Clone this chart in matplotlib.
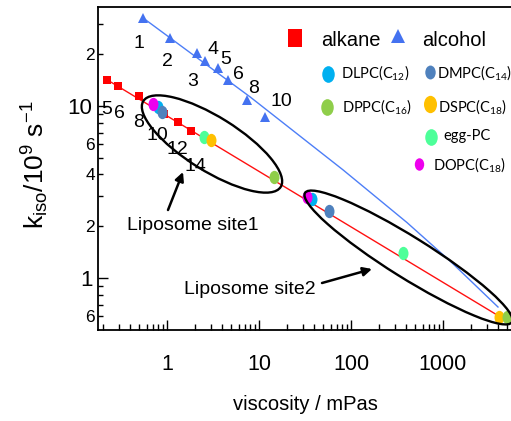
import numpy as np
import matplotlib
matplotlib.use('Agg')
import matplotlib.pyplot as plt
from matplotlib.path import Path
from matplotlib.patches import Ellipse
from matplotlib.transforms import IdentityTransform
from matplotlib.ticker import FixedLocator, FixedFormatter
from matplotlib import font_manager

# ---------------- data ----------------
alkane_n = ['5', '6', '8', '10', '12', '14']
alkane_visc = [0.223, 0.293, 0.496, 0.93, 1.32, 1.82]
alkane_k = [14.2, 13.1, 11.5, 8.98, 8.07, 7.16]

alcohol_n = ['1', '2', '3', '4', '5', '6', '8', '10']
alcohol_visc = [0.548, 1.08, 2.12, 2.59, 3.58, 4.6, 7.4, 11.6]
alcohol_k = [32.5, 24.8, 20.3, 18.3, 16.6, 14.2, 10.8, 8.63]

alkane_fit_visc = [0.223, 3860]
alkane_fit_k = [14.2, 0.61]
alcohol_fit_visc = [0.548, 7.98, 81.9, 406, 1191, 3960]
alcohol_fit_k = [32.5, 11.3, 4.25, 2.10, 1.256, 0.678]

lipids = ['DLPC', 'egg-PC', 'DSPC', 'DMPC', 'DPPC', 'DOPC']
lipid_labels = ['DLPC(C$_{12}$)', 'egg-PC', 'DSPC(C$_{18}$)', 'DMPC(C$_{14}$)',
                'DPPC(C$_{16}$)', 'DOPC(C$_{18}$)']
lipid_colors = ['#00b0f0', '#4dff99', '#ffc000', '#4f81bd', '#8fce4a', '#ee00ee']
site1_visc = [0.798, 2.52, 3.0, 0.883, 14.6, 0.705]
site1_k = [9.87, 6.6, 6.35, 9.23, 3.87, 10.3]
site2_visc = [37.7, 367, 4060, 57.7, 4960, 33.3]
site2_k = [2.88, 1.40, 0.593, 2.45, 0.593, 2.96]

x_major_ticks = [1, 10, 100, 1000]
x_major_labels = ['1', '10', '100', '1000']
y_major_ticks = [1, 10]
y_major_labels = ['1', '10']
y_minor_ticks = [0.6, 0.7, 0.8, 0.9, 2, 3, 4, 5, 6, 7, 8, 9, 20, 30]
y_minor_labels = ['6', '', '', '', '2', '', '4', '', '6', '', '', '', '2', '']

# ---------------- fonts ----------------
avail = {f.name for f in font_manager.fontManager.ttflist}
NARROW = ['Liberation Sans Narrow', 'Liberation Sans'] if 'Liberation Sans Narrow' in avail else ['Liberation Sans']
REG = ['Liberation Sans', 'DejaVu Sans']
CAL = ['Lato', 'Liberation Sans']
plt.rcParams['font.family'] = NARROW
plt.rcParams['mathtext.default'] = 'regular'

# ---------------- figure ----------------
W, H = 511, 421
fig = plt.figure(figsize=(W / 100, H / 100), dpi=100)
L, R, T, B = 98, 511, 7, 330
ax = fig.add_axes([L / W, 1 - B / H, (R - L) / W, (B - T) / H])
ax.set_xscale('log')
ax.set_yscale('log')
ax.set_xlim(0.1778, 5485)
ax.set_ylim(0.4984, 37.6)


def pxa(x, y):
    return ((x - L) / (R - L), (B - y) / (B - T))


# fit lines
ax.plot(alkane_fit_visc, alkane_fit_k, color='#ff1010', lw=1.0, zorder=2)
ax.plot(alcohol_fit_visc, alcohol_fit_k, color='#4d7ef7', lw=1.0, zorder=2)

# solvents
ax.plot(alkane_visc, alkane_k, ls='none', marker='s', ms=5.8, color='#ff0000',
        mew=0, zorder=3)
ax.plot(alcohol_visc, alcohol_k, ls='none', marker='^', ms=7.0, color='#4472f0',
        mew=0, zorder=3)

# ellipse marker
uc = Path.unit_circle()
ell_marker = Path(uc.vertices * np.array([0.75, 1.0]), uc.codes)

for i, name in enumerate(lipids):
    ax.plot([site1_visc[i], site2_visc[i]], [site1_k[i], site2_k[i]], ls='none',
            marker=ell_marker, ms=9.6, color=lipid_colors[i], mew=0, zorder=4 + i * 0.1)

# ---------------- ticks ----------------
ax.xaxis.set_major_locator(FixedLocator(x_major_ticks))
ax.xaxis.set_major_formatter(FixedFormatter(x_major_labels))
ax.xaxis.set_minor_locator(FixedLocator(
    [m * 10.0 ** e for e in range(-1, 4) for m in range(2, 10)]))
ax.xaxis.set_minor_formatter(FixedFormatter([]))
ax.yaxis.set_major_locator(FixedLocator(y_major_ticks))
ax.yaxis.set_major_formatter(FixedFormatter(y_major_labels))
ax.yaxis.set_minor_locator(FixedLocator(y_minor_ticks))
ax.yaxis.set_minor_formatter(FixedFormatter(y_minor_labels))

ax.tick_params(axis='both', which='both', direction='in', top=False, right=False,
               width=1.0, colors='black')
ax.tick_params(axis='x', which='major', length=7.5, pad=17, labelsize=15.5)
ax.tick_params(axis='x', which='minor', length=4.3)
ax.tick_params(axis='y', which='major', length=7, pad=4, labelsize=16)
ax.tick_params(axis='y', which='minor', length=3.8, pad=2, labelsize=12.5)
for s in ['left', 'bottom', 'top']:
    ax.spines[s].set_linewidth(1.3)
ax.spines['right'].set_visible(False)

# ---------------- axis labels ----------------
fig.text(35 / W, 1 - 165 / H, r'k$_{iso}$/10$^{9}$ s$^{-1}$', rotation=90,
         ha='center', va='center', fontsize=19, family=REG)
fig.text(305.5 / W, 1 - 404 / H, 'viscosity / mPas', ha='center', va='center',
         fontsize=14.5, family=REG)


def label(x, yc, s, size, **kw):
    # place text with its digit/cap centre at pixel (x, yc)
    px = size * 100 / 72
    ax.text(*pxa(x, yc + 0.36 * px), s, transform=ax.transAxes, ha='center',
            va='baseline', fontsize=size, clip_on=False, **kw)


# number labels
alc_lab_px = [(139, 41), (167, 59), (193, 79), (213, 47), (226, 57), (238, 72),
              (254, 86), (281, 99)]
for s, (x, y) in zip(alcohol_n, alc_lab_px):
    label(x, y, s, 14)
alk_lab_px = [(107, 107), (119, 111), (139, 120), (157, 133), (177, 147), (195, 164)]
for s, (x, y) in zip(alkane_n, alk_lab_px):
    label(x, y, s, 14)

# ---------------- ellipses & annotations ----------------
for (cx, cy, a, b, ang) in [(212, 144, 81, 27, -32), (408.5, 257.5, 122, 20.5, -32)]:
    e = Ellipse((cx, H - cy), 2 * a, 2 * b, angle=ang, transform=IdentityTransform(),
                fill=False, ec='black', lw=1.7, zorder=6)
    fig.add_artist(e)

label(193, 223, 'Liposome site1', 14, family=REG)
label(250, 287, 'Liposome site2', 14, family=REG)
ax.annotate('', xy=pxa(183, 172), xytext=pxa(168, 210), xycoords='axes fraction',
            arrowprops=dict(arrowstyle='-|>', color='black', lw=1.8, mutation_scale=13,
                            shrinkA=0, shrinkB=0))
ax.annotate('', xy=pxa(372, 269), xytext=pxa(322, 283), xycoords='axes fraction',
            arrowprops=dict(arrowstyle='-|>', color='black', lw=1.8, mutation_scale=13,
                            shrinkA=0, shrinkB=0))

# ---------------- legend ----------------
rect_marker = Path([(-0.4, -0.5), (0.4, -0.5), (0.4, 0.5), (-0.4, 0.5), (-0.4, -0.5)],
                   [1, 2, 2, 2, 79])
ax.plot(*pxa(295, 38), marker=rect_marker, ms=12.5, color='#ff0000', mew=0,
        transform=ax.transAxes, clip_on=False)
ax.text(*pxa(321, 46), 'alkane', transform=ax.transAxes, fontsize=14.5, va='baseline')
ax.plot(*pxa(398, 36), marker='^', ms=10, color='#4472f0', mew=0,
        transform=ax.transAxes, clip_on=False)
ax.text(*pxa(422, 46), 'alcohol', transform=ax.transAxes, fontsize=14.5, va='baseline')

leg_marker_px = [(328, 74), (431, 137), (430, 104), (430, 72), (327, 107), (419, 164)]
leg_text_px = [(341, 78), (443, 140), (438, 112), (437, 78), (342, 112), (433, 170)]
leg_ms = [12, 12, 12.5, 10, 12, 9]
for i in range(len(lipids)):
    ax.plot(*pxa(*leg_marker_px[i]), marker=ell_marker, ms=leg_ms[i],
            color=lipid_colors[i], mew=0, transform=ax.transAxes, clip_on=False)
    ax.text(*pxa(*leg_text_px[i]), lipid_labels[i], transform=ax.transAxes,
            fontsize=10.5, va='baseline', family=CAL)

fig.savefig('out.png', dpi=100)
